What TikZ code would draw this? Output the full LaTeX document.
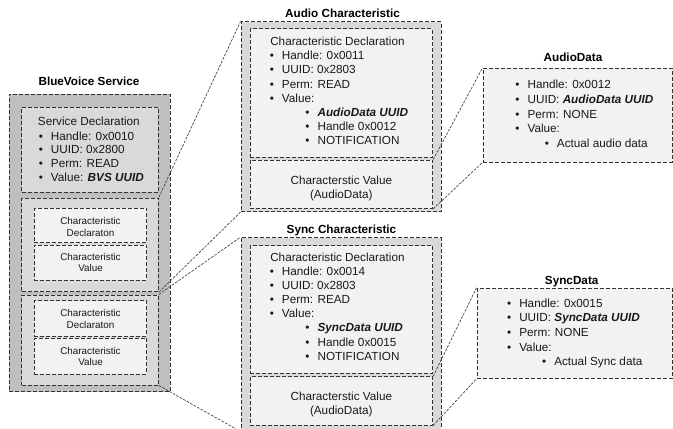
\documentclass[tikz,border=0pt]{standalone}
\usepackage{fontspec}
\setmainfont{Liberation Sans}
\usetikzlibrary{fit}
\definecolor{outerg}{HTML}{BFBFBF}
\definecolor{midg}{HTML}{D9D9D9}
\definecolor{lightg}{HTML}{F2F2F2}
\newcommand\bu{\llap{\textbullet\hspace{6pt}}}
\newcommand\bi[1]{\textbf{\textit{#1}}}
\tikzset{
  box/.style={draw=black!80, line width=0.75pt, dash pattern=on 3pt off 1.5pt, inner sep=0pt},
  link/.style={draw=black!75, line width=0.5pt, dash pattern=on 2pt off 1pt},
  txt/.style={anchor=base west, inner sep=0pt, text=black!90, font=\fontsize{8.8pt}{10pt}\selectfont},
  ttl/.style={anchor=base, inner sep=0pt, font=\bfseries\fontsize{8.8pt}{10pt}\selectfont},
  smalltxt/.style={align=center, inner sep=0pt, text=black!90, font=\fontsize{7.4pt}{8.7pt}\selectfont},
  midtxt/.style={align=center, inner sep=0pt, text=black!90, font=\fontsize{8.8pt}{10.6pt}\selectfont},
}
\begin{document}
\begin{tikzpicture}[x=0.75pt,y=-0.75pt]
\clip (0,0) rectangle (673,428);
\useasboundingbox (0,0) rectangle (673,428);

% ---------- BlueVoice Service ----------
\node[ttl] (bvt) at (89,85) {BlueVoice Service};
\node[box, fill=outerg, fit={(9,94) (170,391.7)}] (bvs) {};
\node[box, fill=midg, fit={(21.7,107) (158.3,192)}] (sdecl) {};
\node[box, fill=midg, fit={(21.7,198) (158.3,291.7)}] (g1) {};
\node[box, fill=midg, fit={(21.7,295) (158.3,385)}] (g2) {};
\node[box, fill=lightg, fit={(34.3,208.3) (146.7,242.7)}] (g1d) {};
\node[box, fill=lightg, fit={(34.3,245) (146.7,280)}] (g1v) {};
\node[box, fill=lightg, fit={(34.3,300.7) (146.7,336)}] (g2d) {};
\node[box, fill=lightg, fit={(34.3,338.3) (146.7,374)}] (g2v) {};

\node[txt] (s0) at (37.7,125.7) {Service Declaration};
\node[txt] (s1) at (50.7,140) {\bu Handle: 0x0010};
\node[txt] (s2) at (50.7,153.5) {\bu UUID: 0x2800};
\node[txt] (s3) at (50.7,167.3) {\bu Perm: READ};
\node[txt] (s4) at (50.7,181.3) {\bu Value: \bi{BVS UUID}};

\node[smalltxt] (t1d) at (90.5,226.8) {Characteristic\\Declaraton};
\node[smalltxt] (t1v) at (90.5,262.5) {Characteristic\\Value};
\node[smalltxt] (t2d) at (90.5,319.2) {Characteristic\\Declaraton};
\node[smalltxt] (t2v) at (90.5,356.5) {Characteristic\\Value};

% ---------- Audio Characteristic ----------
\node[ttl] (act) at (342.5,17.5) {Audio Characteristic};
\node[box, fill=midg, fit={(241,22) (441,211.7)}] (ac) {};
\node[box, fill=lightg, fit={(250,29) (432.7,157)}] (acd) {};
\node[box, fill=lightg, fit={(250,160) (432.7,208.3)}] (acv) {};

\node[txt] (a0) at (270,45.7) {Characteristic Declaration};
\node[txt] (a1) at (281.7,59.8) {\bu Handle: 0x0011};
\node[txt] (a2) at (281.7,73.9) {\bu UUID: 0x2803};
\node[txt] (a3) at (281.7,88) {\bu Perm: READ};
\node[txt] (a4) at (281.7,102.1) {\bu Value:};
\node[txt] (a5) at (317.3,116.2) {\bu \bi{AudioData UUID}};
\node[txt] (a6) at (317.3,130.3) {\bu Handle 0x0012};
\node[txt] (a7) at (317.3,144.4) {\bu NOTIFICATION};
\node[midtxt] (avt) at (341.3,188.5) {Characterstic Value\\(AudioData)};

% ---------- Sync Characteristic ----------
\node[ttl] (sct) at (341.5,233.8) {Sync Characteristic};
\node[box, fill=midg, fit={(241,237.7) (441,431)}] (sc) {};
\node[box, fill=lightg, fit={(250,245.7) (432.7,373.3)}] (scd) {};
\node[box, fill=lightg, fit={(250,376.7) (432.7,425)}] (scv) {};

\node[txt] (c0) at (270,261.4) {Characteristic Declaration};
\node[txt] (c1) at (281.7,275.5) {\bu Handle: 0x0014};
\node[txt] (c2) at (281.7,289.6) {\bu UUID: 0x2803};
\node[txt] (c3) at (281.7,303.7) {\bu Perm: READ};
\node[txt] (c4) at (281.7,317.8) {\bu Value:};
\node[txt] (c5) at (317.3,331.9) {\bu \bi{SyncData UUID}};
\node[txt] (c6) at (317.3,346) {\bu Handle 0x0015};
\node[txt] (c7) at (317.3,360.1) {\bu NOTIFICATION};
\node[midtxt] (svt) at (341.3,404.2) {Characterstic Value\\(AudioData)};

% ---------- AudioData ----------
\node[ttl] (adt) at (573,61.5) {AudioData};
\node[box, fill=lightg, fit={(483,68.3) (672.3,162)}] (ad) {};
\node[txt] (d1) at (527.3,89) {\bu Handle: 0x0012};
\node[txt] (d2) at (527.3,103.6) {\bu UUID: \bi{AudioData UUID}};
\node[txt] (d3) at (527.3,118.2) {\bu Perm: NONE};
\node[txt] (d4) at (527.3,132.8) {\bu Value:};
\node[txt] (d5) at (556.7,147.4) {\bu Actual audio data};

% ---------- SyncData ----------
\node[ttl] (sdt) at (571.7,284.5) {SyncData};
\node[box, fill=lightg, fit={(477,288.3) (672.3,378.3)}] (sd) {};
\node[txt] (e1) at (519,307.3) {\bu Handle: 0x0015};
\node[txt] (e2) at (519,321.9) {\bu UUID: \bi{SyncData UUID}};
\node[txt] (e3) at (519,336.5) {\bu Perm: NONE};
\node[txt] (e4) at (519,351.1) {\bu Value:};
\node[txt] (e5) at (554,365.7) {\bu Actual Sync data};

% ---------- connectors ----------
\draw[link] (g1.north east) -- (ac.north west);
\draw[link] (g1.south east) -- (ac.south west);
\draw[link] (g2.north east) -- (sc.north west);
\draw[link] (g2.south east) -- (sc.south west);
\draw[link] (acv.north east) -- (ad.north west);
\draw[link] (acv.south east) -- (ad.south west);
\draw[link] (scv.north east) -- (sd.north west);
\draw[link] (scv.south east) -- (sd.south west);
\end{tikzpicture}
\end{document}
